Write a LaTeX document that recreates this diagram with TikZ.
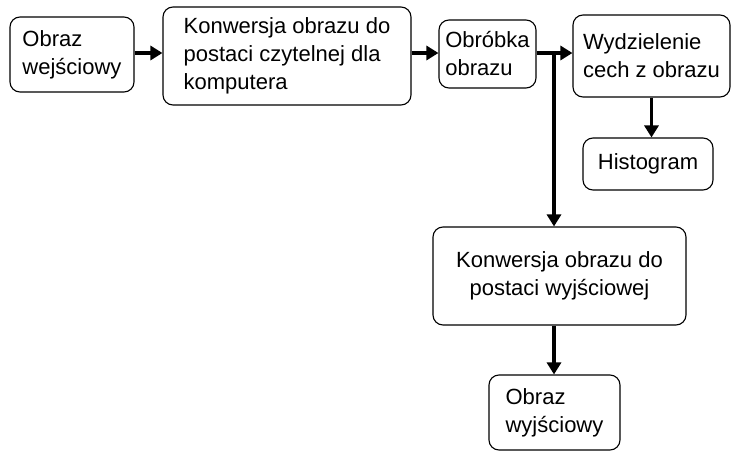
\documentclass[tikz,border=0pt]{standalone}
\usepackage{fontspec}
\setmainfont{Liberation Sans}
\usetikzlibrary{arrows.meta}

\tikzset{
	blok/.style={draw,line width=1.1pt,rounded corners=10pt,align=left,inner sep=0pt,font=\fontsize{22}{28}\selectfont},
	strz/.style={line width=3.2pt,-{Triangle[length=12pt,width=14pt]}},
	lin/.style={line width=3.2pt}
}

\begin{document}
\begin{tikzpicture}[x=1pt,y=-1pt]
			\useasboundingbox (0,0) rectangle (732,453);
			\node[blok,minimum width=124pt,minimum height=75pt] (wej) at (72,54.5) {Obraz\\wejściowy};
			\node[blok,minimum width=248pt,minimum height=98pt] (konw) at (287,56) {Konwersja obrazu do\\postaci czytelnej dla\\komputera};
			\node[blok,minimum width=97pt,minimum height=68pt] (obr) at (487.5,54) {Obróbka\\obrazu};
			\node[blok,minimum width=157pt,minimum height=82pt] (cech) at (651.5,56) {Wydzielenie\\cech z obrazu};
			\node[blok,minimum width=130pt,minimum height=52pt] (hist) at (648,164) {Histogram};
			\node[blok,align=center,minimum width=253pt,minimum height=98pt] (konwwyj) at (559.5,276) {Konwersja obrazu do\\postaci wyjściowej};
			\node[blok,minimum width=131pt,minimum height=75pt] (wyj) at (554.5,412.5) {Obraz\\wyjściowy};
			
			\coordinate (rozg) at (554,53);
			\draw[strz] (wej.east |- rozg) -- (konw.west |- rozg);
			\draw[strz] (konw.east |- rozg) -- (obr.west |- rozg);
			\draw[lin] (obr.east |- rozg) -- (rozg);
			\draw[strz] (rozg) -- (cech.west |- rozg);
			\draw[strz] (rozg) -- (rozg |- konwwyj.north);
			\draw[strz] (cech.south) -- (cech.south |- hist.north);
			\draw[strz] (rozg |- konwwyj.south) -- (rozg |- wyj.north);
\end{tikzpicture}
\end{document}
